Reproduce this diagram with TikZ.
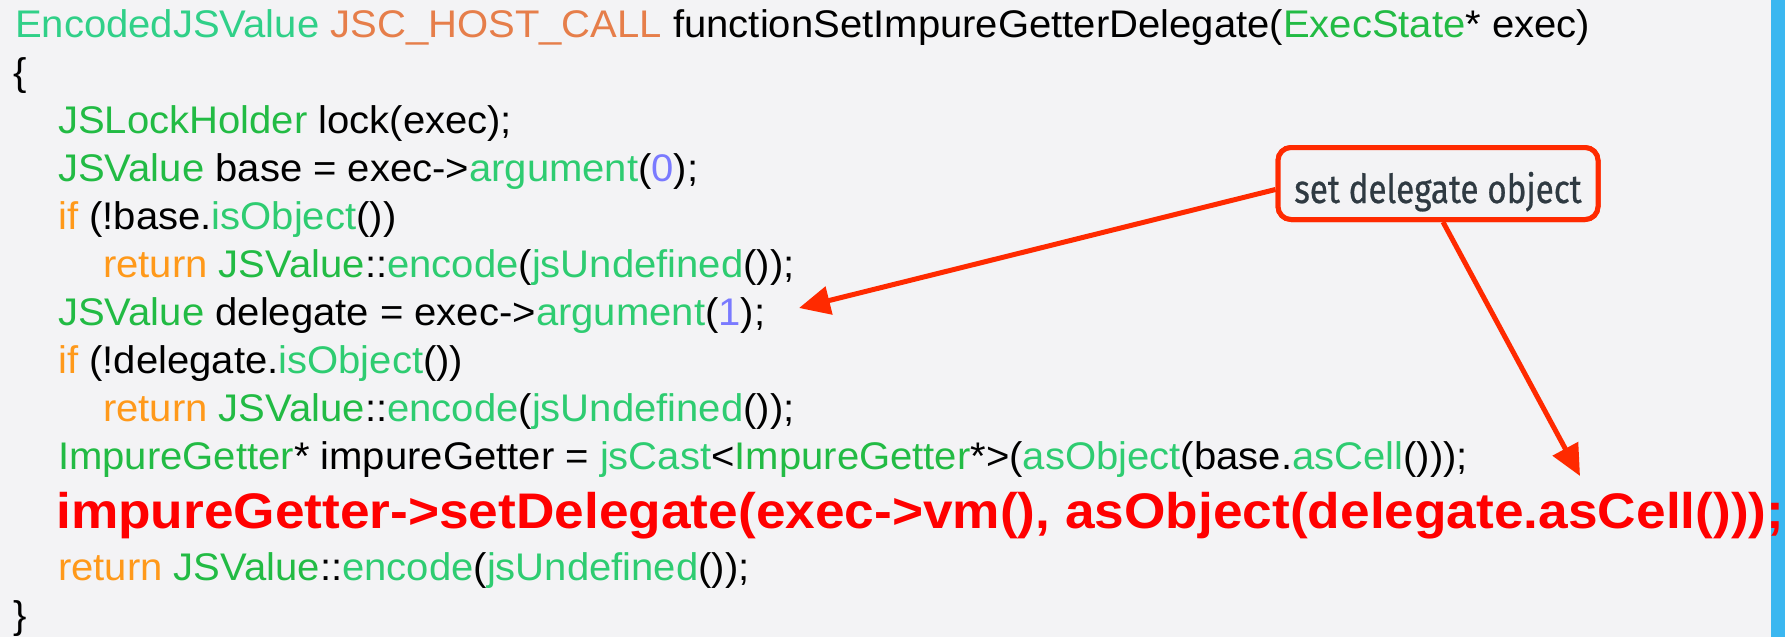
\documentclass[tikz,border=0pt]{standalone}
\usepackage{fontspec}
\setmainfont{Liberation Sans}[FakeStretch=1.04]
\newfontfamily\hotfamily{Liberation Sans}[FakeStretch=1.065]
\newfontfamily\calloutfamily{Fira Sans}[FakeStretch=0.83,FakeBold=0.6]
\usetikzlibrary{arrows.meta,calc}

% palette
\definecolor{pagebg}{RGB}{243,243,245}
\definecolor{sidebar}{RGB}{59,183,240}
\definecolor{typegreen}{RGB}{34,187,68}
\definecolor{funcgreen}{RGB}{46,204,113}
\definecolor{decogreen}{RGB}{48,208,136}
\definecolor{macroorange}{RGB}{230,126,74}
\definecolor{keyorange}{RGB}{255,153,26}
\definecolor{numviolet}{RGB}{122,122,255}
\definecolor{hotred}{RGB}{255,0,0}
\definecolor{callred}{RGB}{255,42,0}
\definecolor{slate}{RGB}{47,58,66}

% syntax colouring helpers
\newcommand\cty[1]{\textcolor{typegreen}{#1}}
\newcommand\cfn[1]{\textcolor{funcgreen}{#1}}
\newcommand\cdeco[1]{\textcolor{decogreen}{#1}}
\newcommand\cmac[1]{\textcolor{macroorange}{#1}}
\newcommand\ckw[1]{\textcolor{keyorange}{#1}}
\newcommand\cnum[1]{\textcolor{numviolet}{#1}}
\newcommand\cdfont{\fontsize{38.5}{46}\selectfont}
\newcommand\cdboldfont{\hotfamily\fontsize{50}{60}\selectfont\bfseries}

\begin{document}
\begin{tikzpicture}[x=1pt,y=-1pt,
  codeline/.style={anchor=base west, inner sep=0pt, font=\cdfont, text=black},
  hotline/.style={anchor=base west, inner sep=0pt, font=\cdboldfont, text=hotred},
  calloutbox/.style={draw=callred, line width=5pt, rounded corners=13pt,
    fill=pagebg, minimum width=320pt, minimum height=72pt, inner sep=0pt},
  calloutlabel/.style={anchor=base, inner sep=0pt, text=slate,
    font=\calloutfamily\fontsize{40}{48}\selectfont},
  pointer/.style={draw=callred, line width=5pt,
    -{Triangle[length=31pt,width=28pt]}}
]
% page and side bar
\fill[pagebg] (0,0) rectangle (1785,637);
\fill[sidebar] (1771,0) rectangle (1785,637);

% source listing
\node[codeline] (l1) at (15,37) {\cdeco{EncodedJSValue} \cmac{JSC\_HOST\_CALL} functionSetImpureGetterDelegate(\cty{ExecState}* exec)};
\node[codeline] (l2) at (13,85) {\{};
\node[codeline] (l3) at (58,133) {\cty{JSLockHolder} lock(exec);};
\node[codeline] (l4) at (58,181) {\cty{JSValue} base = exec->\cfn{argument}(\cnum{0});};
\node[codeline] (l5) at (58,229) {\ckw{if} (!base.\cfn{isObject}())};
\node[codeline] (l6) at (103,277) {\ckw{return} \cty{JSValue}::\cfn{encode}(\cfn{jsUndefined}());};
\node[codeline] (l7) at (58,325) {\cty{JSValue} delegate = exec->\cfn{argument}(\cnum{1});};
\node[codeline] (l8) at (58,373) {\ckw{if} (!delegate.\cfn{isObject}())};
\node[codeline] (l9) at (103,421) {\ckw{return} \cty{JSValue}::\cfn{encode}(\cfn{jsUndefined}());};
\node[codeline] (l10) at (58,469) {\cty{ImpureGetter}* impureGetter = \cfn{jsCast}<\cty{ImpureGetter}*>(\cfn{asObject}(base.\cfn{asCell}()));};
\node[hotline] (l11) at (56,528) {impureGetter->setDelegate(exec->vm(), asObject(delegate.asCell()));};
\node[codeline] (l12) at (58,580) {\ckw{return} \cty{JSValue}::\cfn{encode}(\cfn{jsUndefined}());};
\node[codeline] (l13) at (13,628) {\}};

% annotation
\node[calloutbox] (callout) at (1438,183.5) {};
\coordinate (tipargument) at (799,308);
\coordinate (tipcall) at (1580,476);
\draw[pointer] ($(callout.west)+(0,6)$) -- (tipargument);
\draw[pointer] ($(callout.south)+(5,0)$) -- (tipcall);
\node[calloutbox] at (callout) {};
\node[calloutlabel] (calloutlabel) at (1438,203) {set delegate object};
\end{tikzpicture}
\end{document}
